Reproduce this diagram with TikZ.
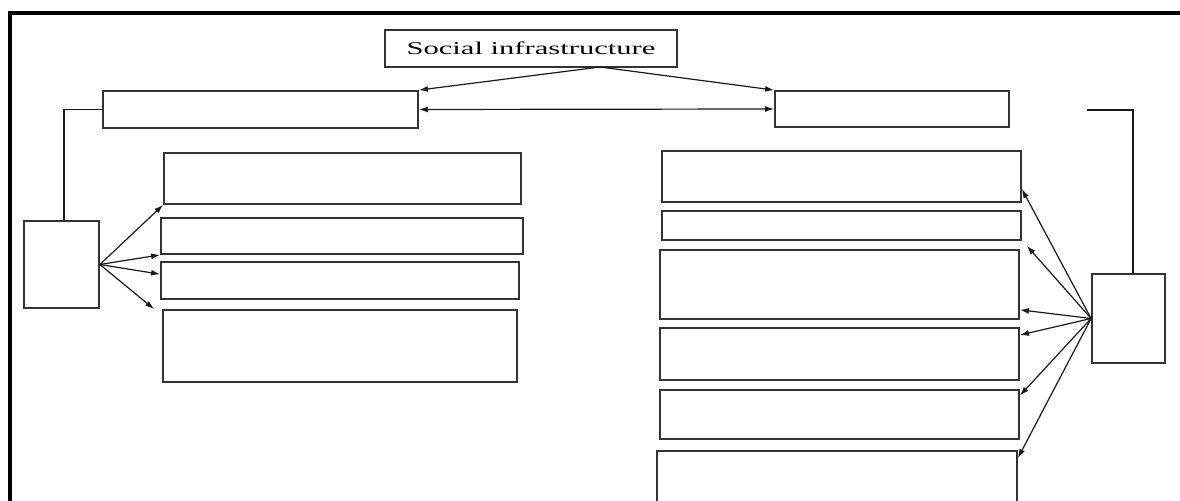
\documentclass[tikz,border=0pt]{standalone}
\usepackage{fontspec}
\setmainfont{Liberation Serif}
\usepackage{graphicx}
\usetikzlibrary{arrows.meta}

\begin{document}
\begin{tikzpicture}[x=0.5pt, y=-0.5pt, >={Latex[length=4.5pt,width=3pt]},
    box/.style={draw=black!80, line width=0.9pt, inner sep=0pt},
    link/.style={draw=black!90, line width=0.6pt}]
      \useasboundingbox (0,0) rectangle (1180,501);
      \clip (0,0) rectangle (1180,501);
      \draw[line width=2pt] (10,501) -- (10,13) -- (1180,13);
      \node at (531,48.5)[box,minimum width=146pt,minimum height=18.5pt] (social){\scalebox{1.7}[1]{\fontsize{9}{10}\selectfont Social infrastructure}};
      \node at (260.5,109.5)[box,minimum width=157.5pt,minimum height=18.5pt] (lefttop){};
      \node at (892,109)[box,minimum width=117pt,minimum height=18pt] (righttop){};
      \node at (61.5,264.5)[box,minimum width=37.5pt,minimum height=43.5pt] (lsmall){};
      \node at (1128.5,318.5)[box,minimum width=36.5pt,minimum height=44.5pt] (rsmall){};
      % left column
      \node at (342.5,178.5)[box,minimum width=178.5pt,minimum height=25.5pt] (L1){};
      \node at (342,236)[box,minimum width=181pt,minimum height=18pt] (L2){};
      \node at (340,280.5)[box,minimum width=179pt,minimum height=18.5pt] (L3){};
      \node at (340,346)[box,minimum width=177pt,minimum height=36pt] (L4){};
      % right column
      \node at (841.5,176.5)[box,minimum width=179.5pt,minimum height=25.5pt] (R1){};
      \node at (841.5,225.5)[box,minimum width=179.5pt,minimum height=14.5pt] (R2){};
      \node at (839.5,284.5)[box,minimum width=179.5pt,minimum height=34.5pt] (R3){};
      \node at (839.5,354)[box,minimum width=179.5pt,minimum height=26pt] (R4){};
      \node at (839.5,414.5)[box,minimum width=179.5pt,minimum height=24.5pt] (R5){};
      \node at (837,491)[box,minimum width=180pt,minimum height=40pt] (R6){};
      % top links
      \coordinate (fork) at (600,67);
      \draw[link,->] (fork) -- (lefttop.north east);
      \draw[link,->] (fork) -- (righttop.north west);
      \draw[link,<->] (lefttop.east) -- (righttop.west);
      \draw[link] (lefttop.west) -| ([xshift=1.25pt]lsmall.north);
      \coordinate (rfree) at (1087,110);
      \draw[link] (rfree) -| ([xshift=2.25pt]rsmall.north);
      % fans
      \foreach \t in {L1.south west, L2.south west, L3.178}
        \draw[link,->] (lsmall.east) -- (\t);
      \draw[link,->] (lsmall.east) -- ([xshift=-4pt]L4.north west);
      \foreach \t in {R1.-4, R3.-8, R4.6, R5.6}
        \draw[link,->] (rsmall.west) -- (\t);
      \draw[link,->] (rsmall.west) -- ([xshift=2.5pt,yshift=-2.5pt]R2.south east);
      \draw[link,->] (rsmall.west) -- ([yshift=-4pt]R6.north east);
\end{tikzpicture}
\end{document}
